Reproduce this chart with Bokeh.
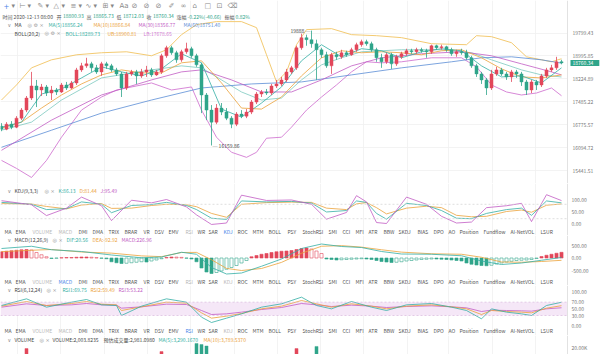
from bokeh.plotting import figure
from bokeh.models import (Range1d, FixedTicker, Label, Span, BoxAnnotation, ColumnDataSource, Grid)
from bokeh.layouts import column
from bokeh.embed import file_html
from bokeh.resources import INLINE

# ---------------- data ----------------
OPEN = [16734, 16643, 16794, 16703, 16978, 17227, 17607, 17995, 17864, 17962,
        17767, 17864, 17800, 18027, 17929, 18093, 18525, 18660, 18728, 18593,
        18458, 18728, 18660, 18525, 18391, 17929, 18391, 18458, 18325, 18458,
        18525, 18358, 18458, 19003, 19281, 19107, 18865, 19141, 19246, 19003,
        18694, 17703, 17227, 16856, 17290, 17164, 16978, 16794, 17102, 17040,
        17164, 17479, 17735, 17800, 17767, 17995, 18060, 18192, 18458, 18593,
        19281, 19635, 19564, 19422, 19211, 19037, 18660, 19037, 18968, 19107,
        19037, 19211, 19387, 19493, 19422, 19211, 18934, 18797, 19037, 18728,
        18968, 19072, 19176, 19141, 19211, 19176, 19141, 19351, 19281, 19316,
        19211, 19072, 19141, 19107, 18934, 18660, 18391, 18192, 17929, 18391,
        18525, 18391, 18291, 18458, 18391, 18126, 17864, 18126, 18027, 18325,
        18525, 18593, 18800.93]
HIGH = [16825, 16856, 16886, 17040, 17290, 17671, 18458, 18192, 18060, 18027,
        17995, 17929, 18093, 18126, 18159, 18593, 18763, 18934, 18797, 18694,
        18797, 18797, 18728, 18593, 18458, 18458, 18525, 18525, 18559, 18660,
        18593, 18525, 19072, 19351, 19351, 19176, 19211, 19457, 19316, 19072,
        18763, 17767, 17384, 17416, 17448, 17290, 17040, 17164, 17227, 17258,
        17543, 17800, 17864, 17897, 18060, 18192, 18291, 18559, 18660, 19351,
        19778, 19742, 19888, 19564, 19281, 19141, 19107, 19141, 19211, 19176,
        19281, 19457, 19564, 19564, 19493, 19281, 19072, 19107, 19107, 19037,
        19141, 19246, 19246, 19281, 19281, 19246, 19387, 19387, 19387, 19351,
        19281, 19211, 19246, 19211, 19003, 18728, 18458, 18258, 18525, 18627,
        18593, 18458, 18525, 18525, 18458, 18192, 18192, 18192, 18391, 18593,
        18694, 18968, 18865.73]
LOW = [16582, 16612, 16643, 16673, 16917, 17164, 17543, 17321, 17671, 17671,
       17543, 17703, 17767, 17864, 17897, 18027, 18458, 18593, 18458, 18391,
       18325, 18559, 18458, 18325, 17639, 17864, 18325, 18060, 18258, 18291,
       18291, 18325, 18391, 18934, 19037, 18763, 18797, 19072, 18934, 18627,
       17133, 16917, 16159.86, 16794, 17071, 16917, 16673, 16734, 16978, 16978,
       17102, 17416, 17639, 17703, 17703, 17929, 17995, 18126, 18391, 18525,
       19211, 19351, 19281, 18192, 18934, 18593, 18391, 18865, 18899, 18968,
       19003, 19141, 19316, 19351, 19141, 18797, 18593, 18728, 18559, 18660,
       18899, 19003, 19072, 19072, 19107, 18934, 19072, 19211, 19211, 19141,
       19003, 18968, 19037, 18865, 18593, 18291, 18060, 17703, 17864, 18325,
       18325, 18192, 18126, 18258, 17995, 17703, 17767, 17864, 17962, 18258,
       18458, 18525, 18712.03]
CLOSE = [16643, 16794, 16703, 16978, 17227, 17607, 17995, 17864, 17962, 17767,
         17864, 17800, 18027, 17929, 18093, 18525, 18660, 18728, 18593, 18458,
         18728, 18660, 18525, 18391, 17929, 18391, 18458, 18325, 18458, 18525,
         18358, 18458, 19003, 19281, 19107, 18865, 19141, 19246, 19003, 18694,
         17703, 17227, 16856, 17290, 17164, 16978, 16794, 17102, 17040, 17164,
         17479, 17735, 17800, 17767, 17995, 18060, 18192, 18458, 18593, 19281,
         19635, 19564, 19422, 19211, 19037, 18660, 19037, 18968, 19107, 19037,
         19211, 19387, 19493, 19422, 19211, 18934, 18797, 19037, 18728, 18968,
         19072, 19176, 19141, 19211, 19176, 19141, 19351, 19281, 19316, 19211,
         19072, 19141, 19107, 18934, 18660, 18391, 18192, 17929, 18391, 18525,
         18391, 18291, 18458, 18391, 18126, 17864, 18126, 18027, 18325, 18525,
         18593, 18801, 18760.34]
VOLUME = [6200, 5400, 4800, 7600, 9800, 19300, 13800, 11200, 7400, 6800,
          6100, 5200, 6900, 5600, 6300, 11800, 9400, 10200, 7800, 7100,
          8400, 6400, 6900, 7300, 12600, 10100, 6000, 7500, 6200, 6600,
          7000, 5800, 17300, 14100, 10300, 11500, 9200, 12400, 10600, 22700,
          22000, 21000, 14800, 11600, 9800, 9100, 10400, 8700, 7600, 7200,
          8800, 9600, 7400, 6800, 8200, 7900, 8600, 11400, 10900, 19300,
          14600, 12200, 13400, 20700, 11100, 12600, 13100, 8200, 7500, 6900,
          8100, 9300, 8700, 7100, 8900, 11800, 10400, 9600, 10900, 8300,
          7200, 6900, 5800, 6200, 5500, 7900, 8400, 6300, 5900, 6100,
          6800, 6200, 5600, 8900, 11600, 12800, 10700, 13900, 11200, 8400,
          7300, 6800, 8100, 6400, 9200, 11500, 10300, 7600, 9400, 8800,
          7100, 8300, 2003.8235]

MA_IDX = [0, 4, 8, 12, 16, 20, 24, 28, 32, 36, 40, 44, 48, 52, 56, 60, 64, 68, 72, 76,
          80, 84, 88, 92, 96, 100, 104, 108, 112]
MA5 = [16703, 16856, 17735, 17897, 18258, 18627, 18458, 18325, 18559, 19072,
       18763, 17258, 17009, 17448, 17962, 18831, 19387, 18968, 19246, 19176,
       18934, 19141, 19246, 19176, 18660, 18291, 18325, 18093, 18593]
MA10 = [16673, 16856, 17290, 17703, 18060, 18358, 18525, 18425, 18425, 18763,
        18831, 18093, 17290, 17258, 17639, 18325, 18934, 19176, 19107, 19141,
        19107, 19037, 19176, 19211, 18934, 18559, 18291, 18258, 18358]
MA30_IDX = [0, 10, 20, 30, 36, 40, 46, 52, 58, 64, 70, 76, 84, 92, 98, 104, 110, 112]
MA30 = [16019, 16917, 17703, 18192, 18458, 18525, 18192, 17800, 17800, 18192,
        18660, 18934, 19072, 19141, 19003, 18728, 18458, 18356.77]
MA60_IDX = [0, 10, 20, 30, 40, 50, 60, 70, 80, 90, 96, 102, 108, 112]
MA60 = [16107, 16612, 17133, 17543, 17929, 18060, 18126, 18358, 18593, 18797,
        18934, 18968, 18865, 18751.40]
UB_IDX = [0, 3, 6, 10, 15, 20, 25, 30, 33, 36, 39, 43, 48, 51, 53, 55, 57, 59, 61, 66,
          70, 75, 80, 86, 93, 95, 98, 102, 105, 110, 112]
UB = [17543, 18027, 18593, 18865, 19037, 19107, 19141, 19003, 19211, 19742,
      20103, 20213, 20213, 19994, 19037, 18126, 18458, 19387, 19922, 19958,
      19742, 19706, 19635, 19422, 19387, 19706, 19670, 19457, 18968, 18797, 18900.81]
LB_IDX = [0, 3, 6, 9, 12, 16, 20, 23, 30, 34, 38, 40, 43, 46, 49, 51, 53, 56, 58, 61,
          64, 67, 70, 73, 76, 80, 86, 92, 95, 98, 101, 104, 107, 110, 112]
LB = [15730, 15504, 15252, 15730, 16403, 17227, 17639, 17864, 18093, 17864,
      17962, 17227, 16403, 15962, 15817, 15962, 16373, 16403, 16703, 17227,
      17639, 18027, 18458, 18797, 18763, 18797, 18934, 18934, 18627, 18027,
      17800, 17703, 17767, 17929, 17678.65]
MID_IDX = [0, 6, 12, 20, 30, 36, 40, 44, 48, 52, 56, 60, 64, 68, 72, 80, 88, 94, 98, 104, 108, 112]
MID = [16612, 16856, 17543, 18258, 18525, 18660, 18593, 18192, 17800, 17543,
       17607, 18192, 18694, 18934, 19141, 19211, 19211, 19107, 18865, 18525, 18358, 18289.73]

KDJ_IDX = [0, 6, 9, 13, 16, 20, 22, 26, 30, 33, 37, 39, 42, 45, 48, 53, 58, 62, 65, 69,
           71, 73, 75, 77, 81, 85, 88, 91, 94, 97, 101, 104, 106, 109, 112]
K = [88, 80, 58, 62, 90, 80, 45, 75, 79, 88, 75, 58, 22, 17, 94, 90, 92, 85, 48, 54,
     94, 88, 42, 18, 84, 75, 54, 22, 20, 42, 58, 64, 34, 94, 86.13]
D = [83, 81, 71, 61, 77, 83, 63, 64, 75, 80, 78, 70, 42, 26, 80, 87, 89, 88, 64, 58,
     82, 87, 66, 40, 64, 72, 66, 34, 28, 30, 50, 56, 47, 76, 81.44]
J = [95, 78, 33, 64, 110, 74, 12, 97, 86, 100, 69, 36, -4, 2, 118, 96, 98, 80, 18, 46,
     116, 90, 4, 0, 110, 80, 30, 2, 6, 66, 74, 84, 8, 120, 95.49]

MACD_IDX = [0, 6, 10, 16, 22, 28, 32, 36, 39, 42, 45, 48, 52, 56, 60, 64, 68, 72, 76, 80,
            86, 92, 96, 100, 104, 108, 112]
DIF = [380, 470, 330, 260, 120, 10, 40, 230, 150, -380, -640, -600, -330, -40, 380, 560,
       460, 420, 260, 160, 150, 90, -120, -260, -200, -90, 20.56]
DEA = [255, 310, 340, 240, 195, 85, 55, 220, 225, -70, -415, -500, -420, -175, 190, 470,
       495, 435, 330, 235, 170, 150, 30, -160, -170, -140, -92.92]
MACD_HIST = [250, 270, 290, 310, 330, 340, 320, 220, 130, 50,
             -20, -10, 10, 20, 20, 30, 40, 40, 30, 15, -10, -30,
             -150, -190, -220, -210, -190, -170, -150, -160, -120, -80,
             -30, 20, 40, 35, 25, -5, -40,
             -150, -400, -560, -620, -580, -520, -450, -380, -300,
             -200, -100,
             50, 100, 150, 180, 220, 250, 270, 280, 300, 340, 380, 400,
             360, 280, 180,
             -40, -60, -80, -70, -60, -50, -40, -30, -40, -60, -100, -140, -160, -180,
             -170, -150, -120, -100, -80, -60, -50, -40, -40, -50, -60, -80, -100, -120,
             -200, -250, -280, -300, -310, -290,
             -240, -200, -160, -130, -100, -90, -80, -60, -20,
             60, 110, 150, 190, 226.96]

RSI_IDX = [0, 5, 9, 14, 17, 20, 23, 24, 28, 33, 37, 40, 42, 45, 48, 52, 56, 60, 63, 66,
           70, 74, 77, 81, 86, 90, 93, 96, 98, 101, 104, 106, 109, 112]
RSI1 = [60, 80, 55, 70, 78, 62, 60, 30, 58, 80, 70, 25, 9, 22, 35, 55, 65, 85, 60, 50,
        72, 55, 45, 62, 66, 55, 45, 20, 50, 40, 35, 30, 60, 69.75]
RSI2 = [58, 72, 60, 66, 72, 64, 62, 45, 56, 70, 67, 38, 22, 28, 36, 50, 58, 75, 65, 55,
        65, 58, 50, 58, 62, 56, 50, 33, 45, 42, 40, 38, 52, 59.49]
RSI3 = [55, 65, 60, 62, 66, 62, 61, 52, 56, 64, 63, 45, 33, 35, 40, 48, 54, 66, 62, 57,
        61, 58, 54, 57, 59, 56, 53, 42, 46, 45, 44, 43, 50, 53.22]

MAIN_TICKS = [19799.43, 18995.85, 18224.89, 17485.22, 16775.57, 16094.72, 15441.51]
KDJ_TICKS = [100, 50, 0]
MACD_TICKS = [500, 0, -500]
RSI_TICKS = [100, 70, 50, 30, 0]
VOL_TICKS = [20000]
VOL_TICK_LABELS = ["20.00K"]
GRID_X = [3.2, 11.8, 20.6, 29.2, 37.8, 46.6, 55.2, 63.8, 72.4, 81.2, 89.4, 98.2, 106.8]

TAB_WORDS = ["MA", "EMA", "VOLUME", "MACD", "DMI", "DMA", "TRIX", "BRAR", "VR", "DSV", "EMV",
             "RSI", "WR", "SAR", "KDJ", "ROC", "MTM", "BOLL", "PSY", "StochRSI", "SMI", "CCI",
             "MFI", "ATR", "BBW", "SKDJ", "BIAS", "DPO", "AO", "Position", "Fundflow",
             "AI-NetVOL", "LSUR"]
TAB_X = [4, 15, 32, 58, 78, 92, 108, 124, 143, 154, 168, 185, 197, 208, 223, 237, 252, 268,
         287, 302, 328, 342, 355, 368, 383, 398, 417, 433, 448, 459, 483, 510, 540]

# ---------------- style ----------------
UP = "#E2475A"
DN = "#2FA58A"
TEAL = "#34AFA4"
ORANGE = "#EBA23A"
PURPLE = "#C25CC4"
BLUE = "#5A8DD6"
PINK = "#D27AD2"
YEL = "#F2C462"
FONT = "Noto Sans CJK SC"
ICONF = "DejaVu Sans"
FS = "5px"
W = 600
PXC = 5.0                       # pixels per candle
N = len(CLOSE)
IDX = list(range(N))
X_END = N + 0.2                 # right edge of the candle area (price scale starts here)
xr = Range1d(-0.2, -0.2 + W / PXC)


def make_fig(h, y0, y1, log=False):
    p = figure(width=W, height=h, x_range=xr, y_range=Range1d(y0, y1),
               y_axis_type="log" if log else "linear",
               x_axis_location=None, y_axis_location=None, toolbar_location=None,
               output_backend="svg", min_border_left=0, min_border_right=0,
               min_border_top=0, min_border_bottom=0)
    p.outline_line_color = None
    p.background_fill_color = "white"
    p.border_fill_color = "white"
    p.xgrid.visible = False
    p.ygrid.visible = False
    p.add_layout(Grid(dimension=0, ticker=FixedTicker(ticks=GRID_X),
                      grid_line_color="#f0f0f0", grid_line_width=0.8))
    return p


def price_scale(p, ticks, labels, offset):
    """Right-hand value scale: blank strip, scale line and tick labels at data positions."""
    p.add_layout(BoxAnnotation(left=X_END, fill_color="white", fill_alpha=1.0, line_color=None))
    p.add_layout(Span(location=X_END, dimension="height", line_color="#e2e2e2", line_width=1))
    for v, s in zip(ticks, labels):
        p.add_layout(Label(x=X_END, y=v, x_offset=offset, text=s, text_baseline="middle",
                           text_font=FONT, text_font_size=FS, text_color="#777777"))


def txt(p, h, x, t, s, color="#555555", size=FS, font=FONT):
    p.add_layout(Label(x=x, y=h - t, x_units="screen", y_units="screen", text=s,
                       text_color=color, text_font=font, text_font_size=size,
                       text_baseline="middle"))


def tab_bar(p, h, t, active):
    for wd, x in zip(TAB_WORDS, TAB_X):
        c = "#555555"
        if wd in ("VOLUME", "MACD", "RSI", "KDJ"):
            c = "#b8b8b8"
        if wd == active:
            c = "#4a86e8"
        txt(p, h, x, t, wd, c)


def legend_head(p, h, t, name, icons):
    txt(p, h, 7, t, "∨", "#888888", "5px", ICONF)
    txt(p, h, 14, t, name, "#444444")
    for x, s in icons:
        txt(p, h, x, t, s, "#9a9a9a", "5px", ICONF)


def fmt2(v):
    return f"{v:.2f}"


# ---------------- main price panel ----------------
H0 = 183
p0 = make_fig(H0, 15087, 20999, log=True)
p0.add_layout(Grid(dimension=1, ticker=FixedTicker(ticks=MAIN_TICKS),
                   grid_line_color="#f0f0f0", grid_line_width=0.8))

inc = [c >= o for o, c in zip(OPEN, CLOSE)]
cols = [UP if u else DN for u in inc]
src = ColumnDataSource(dict(x=IDX, h=HIGH, l=LOW,
                            top=[max(o, c) for o, c in zip(OPEN, CLOSE)],
                            bot=[min(o, c) for o, c in zip(OPEN, CLOSE)], col=cols))

p0.line(UB_IDX, UB, color=YEL, line_width=0.9)
p0.line(LB_IDX, LB, color=PINK, line_width=0.9)
p0.line(MID_IDX, MID, color="#7cc9bf", line_width=0.8)
p0.line(MA60_IDX, MA60, color=BLUE, line_width=0.8)
p0.line(MA30_IDX, MA30, color=PURPLE, line_width=0.8)
p0.line(MA_IDX, MA10, color=ORANGE, line_width=0.8)
p0.line(MA_IDX, MA5, color=TEAL, line_width=0.8)
p0.segment(x0="x", y0="h", x1="x", y1="l", color="col", line_width=0.8, source=src)
p0.vbar(x="x", width=0.62, top="top", bottom="bot", fill_color="col", line_color="col",
        line_width=0.4, source=src)

price_scale(p0, MAIN_TICKS, [fmt2(v) for v in MAIN_TICKS], 5)
p0.add_layout(Label(x=X_END, y=CLOSE[-1], x_offset=3, text=fmt2(CLOSE[-1]),
                    text_color="white", background_fill_color=DN, text_font=FONT,
                    text_font_size=FS, text_baseline="middle",
                    padding=dict(left=2, right=6, top=1, bottom=1)))

hi_i = max(IDX, key=lambda i: HIGH[i])
lo_i = min(IDX, key=lambda i: LOW[i])
p0.add_layout(Label(x=hi_i, y=HIGH[hi_i], text=f"{HIGH[hi_i]:g} ─", text_align="right",
                    x_offset=-1, text_baseline="middle", text_font=FONT, text_font_size=FS,
                    text_color="#444444"))
p0.add_layout(Label(x=lo_i, y=LOW[lo_i], text=f"─ {LOW[lo_i]:.2f}", text_align="left",
                    x_offset=1, text_baseline="middle", text_font=FONT, text_font_size=FS,
                    text_color="#444444"))

# toolbar icons
for x, s in [(3, "+"), (11, "▾"), (19, "⊢"), (27, "▾"), (37, "✎"), (45, "▾"), (53, "△"),
             (61, "▾"), (70, "≡"), (78, "▾"), (85, "∿"), (93, "▾"), (102, "⊞"), (110, "▾"),
             (119, "Aa"), (131, "⊘"), (143, "⊘"), (155, "⊘"), (168, "✐"), (180, "∞"),
             (192, "⌂"), (204, "□"), (216, "⊡"), (227, "⌫")]:
    txt(p0, H0, x, 5, s, "#4a86e8" if s == "+" else "#888888", "7px", ICONF)

# info row
for x, s, c in [(2, "时间 2020-12-13 08:00", "#555555"),
                (56, "开", "#555555"), (62.5, "18800.93", DN),
                (86, "高", "#555555"), (92.5, "18865.73", DN),
                (116, "低", "#555555"), (122.5, "18712.03", DN),
                (146, "收", "#555555"), (152.5, "18760.34", DN),
                (176, "涨幅", "#555555"), (187, "-0.22%(-40.66)", DN),
                (224, "振幅", "#555555"), (235, "0.82%", DN)]:
    txt(p0, H0, x, 15.5, s, c)

legend_head(p0, H0, 24, "MA", [(27, "◎"), (33, "⚙"), (39, "×")])
for x, s, c in [(48, "MA(5)18856.24", TEAL), (93, "MA(10)18866.84", ORANGE),
                (138, "MA(30)18356.77", PURPLE), (183, "MA(60)18751.40", BLUE)]:
    txt(p0, H0, x, 24, s, c)

txt(p0, H0, 14, 32.5, "BOLL(20,2)", "#444444")
for x, s in [(44, "◎"), (50, "⚙"), (56, "×")]:
    txt(p0, H0, x, 32.5, s, "#9a9a9a", "5px", ICONF)
for x, s, c in [(65, "BOLL:18289.73", TEAL), (107, "UB:18900.81", ORANGE),
                (143, "LB:17678.65", PINK)]:
    txt(p0, H0, x, 32.5, s, c)

# ---------------- KDJ ----------------
H1 = 52
p1 = make_fig(H1, -50, 166.67)
for lv in (80, 20):
    p1.add_layout(Span(location=lv, dimension="width", line_color="#d6d6d6",
                       line_dash="2 2", line_width=0.8))
p1.line(KDJ_IDX, D, color=ORANGE, line_width=0.8)
p1.line(KDJ_IDX, K, color=TEAL, line_width=0.8)
p1.line(KDJ_IDX, J, color=PURPLE, line_width=0.8)
price_scale(p1, KDJ_TICKS, [fmt2(v) for v in KDJ_TICKS], 4)
legend_head(p1, H1, 7, "KDJ(9,3,3)", [(44, "◎"), (50, "×")])
for x, s, c in [(58, "K:86.13", TEAL), (79, "D:81.44", ORANGE), (100, "J:95.49", PURPLE)]:
    txt(p1, H1, x, 7, s, c)
tab_bar(p1, H1, 48, "KDJ")

# ---------------- MACD ----------------
H2 = 50
p2 = make_fig(H2, -1100, 900)
hcol, hfill = [], []
for i, v in enumerate(MACD_HIST):
    c = UP if v >= 0 else DN
    shrink = i > 0 and abs(v) < abs(MACD_HIST[i - 1]) and (v >= 0) == (MACD_HIST[i - 1] >= 0)
    hcol.append(c)
    hfill.append("white" if shrink else c)
hsrc = ColumnDataSource(dict(x=IDX, top=MACD_HIST, col=hcol, fill=hfill))
p2.vbar(x="x", width=0.62, top="top", bottom=0, fill_color="fill", line_color="col",
        line_width=0.6, source=hsrc)
p2.line(MACD_IDX, DEA, color=ORANGE, line_width=0.8)
p2.line(MACD_IDX, DIF, color=TEAL, line_width=0.8)
price_scale(p2, MACD_TICKS, [fmt2(v) for v in MACD_TICKS], 4)
legend_head(p2, H2, 4, "MACD(12,26,9)", [(52, "◎"), (58, "×")])
for x, s, c in [(66, "DIF:20.56", TEAL), (92, "DEA:-92.92", ORANGE),
                (121, "MACD:226.96", PURPLE)]:
    txt(p2, H2, x, 4, s, c)
tab_bar(p2, H2, 46, "MACD")

# ---------------- RSI ----------------
H3 = 50
p3 = make_fig(H3, -30, 120)
p3.add_layout(BoxAnnotation(bottom=30, top=70, fill_color="#F5E7F7", fill_alpha=1.0,
                            line_color=None, level="underlay"))
for lv in (70, 30):
    p3.add_layout(Span(location=lv, dimension="width", line_color="#d9b8dc",
                       line_dash="2 2", line_width=0.7))
p3.line(RSI_IDX, RSI3, color=PURPLE, line_width=0.8)
p3.line(RSI_IDX, RSI2, color=ORANGE, line_width=0.8)
p3.line(RSI_IDX, RSI1, color=TEAL, line_width=0.8)
price_scale(p3, RSI_TICKS, [fmt2(v) for v in RSI_TICKS], 4)
legend_head(p3, H3, 4, "RSI(6,12,24)", [(46, "◎"), (52, "×")])
for x, s, c in [(62, "RSI1:69.75", TEAL), (90, "RSI2:59.49", ORANGE),
                (118, "RSI3:53.22", PURPLE)]:
    txt(p3, H3, x, 4, s, c)
tab_bar(p3, H3, 45, "RSI")

# ---------------- VOLUME ----------------
H4 = 19
p4 = make_fig(H4, 15333, 28000)
vsrc = ColumnDataSource(dict(x=IDX, top=VOLUME, col=cols))
p4.vbar(x="x", width=0.62, top="top", bottom=0, fill_color="col", line_color="col",
        line_width=0.4, source=vsrc)
price_scale(p4, VOL_TICKS, VOL_TICK_LABELS, 4)
legend_head(p4, H4, 4, "VOLUME", [(39, "◎"), (45, "×")])
for x, s, c in [(52, "VOLUME:2,003.8235", "#444444"), (103, "预估成交量:2,981.0980", "#444444"),
                (158, "MA(5):3,290.1670", TEAL), (203, "MA(10):3,789.5370", ORANGE)]:
    txt(p4, H4, x, 4, s, c)

layout = column(p0, p1, p2, p3, p4, spacing=0)
open("out.html", "w").write(file_html(layout, INLINE))
